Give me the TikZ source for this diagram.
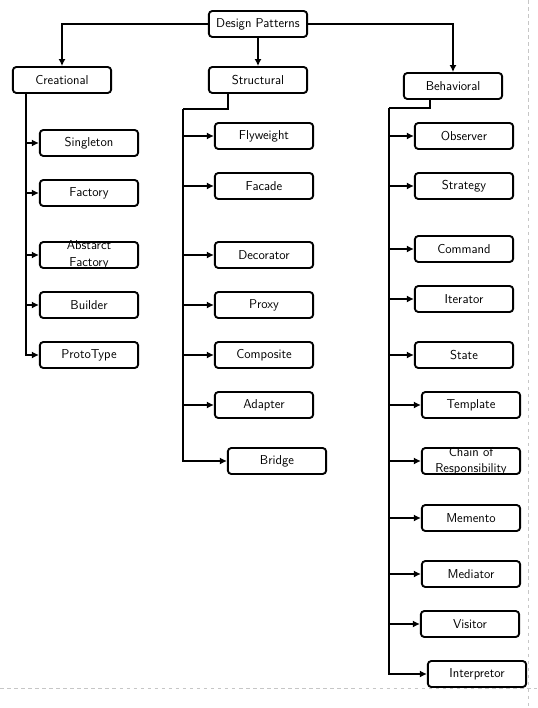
\documentclass[tikz,border=0pt]{standalone}
\usepackage{tikz}
\usetikzlibrary{arrows.meta,positioning,calc}

\tikzset{
    box/.style={draw, line width=1.6pt, rounded corners=3pt, minimum width=2.95cm, minimum height=0.78cm, font=\sffamily\fontsize{11}{14}\selectfont, inner sep=1pt},
    boxtext/.style={align=center, font=\sffamily\fontsize{11}{14}\selectfont},
    arr/.style={line width=1.6pt, -{Latex[length=6pt,width=6pt]}},
    trunk/.style={line width=1.6pt}
}

\begin{document}
\begin{tikzpicture}[x=0.03cm, y=-0.03cm]
    \useasboundingbox (0,0) rectangle (537,708);

    % Page edges
    \draw[dashed, gray!45, line width=0.6pt] (528,0) -- (528,708);
    \draw[dashed, gray!45, line width=0.6pt] (0,688) -- (537,688);

    % Root and groups
    \node[box] (dp) at (258,24) {Design Patterns};
    \node[box] (creational) at (62,80) {Creational};
    \node[box] (structural) at (258,80) {Structural};
    \node[box] (behavioral) at (453,86) {Behavioral};

    \draw[arr] (dp.west) -| (creational.north);
    \draw[arr] (dp.south) -- (structural.north);
    \draw[arr] (dp.east) -| (behavioral.north);

    % Creational
    \node[box] (singleton) at (89,143) {Singleton};
    \node[box] (factory) at (89,193) {Factory};
    \node[box, label={[boxtext]center:Abstarct\\Factory}] (abstractfactory) at (89,255) {};
    \node[box] (builder) at (89,305) {Builder};
    \node[box] (prototype) at (89,355) {ProtoType};

    \coordinate (ctop) at (26,93);
    \foreach \n in {singleton,factory,abstractfactory,builder,prototype}
        \draw[arr] (ctop) |- (\n.west);

    % Structural
    \node[box] (flyweight) at (264,136) {Flyweight};
    \node[box] (facade) at (264,186) {Facade};
    \node[box] (decorator) at (264,255) {Decorator};
    \node[box] (proxy) at (264,305) {Proxy};
    \node[box] (composite) at (264,355) {Composite};
    \node[box] (adapter) at (264,405) {Adapter};
    \node[box] (bridge) at (277,461) {Bridge};

    \coordinate (stop) at (228,93);
    \coordinate (sjoint) at (183,109);
    \draw[trunk] (stop) |- (sjoint);
    \foreach \n in {flyweight,facade,decorator,proxy,composite,adapter,bridge}
        \draw[arr] (sjoint) |- (\n.west);

    % Behavioral
    \node[box] (observer) at (464,136) {Observer};
    \node[box] (strategy) at (464,186) {Strategy};
    \node[box] (command) at (464,249) {Command};
    \node[box] (iterator) at (464,299) {Iterator};
    \node[box] (state) at (464,355) {State};
    \node[box] (template) at (471,405) {Template};
    \node[box, label={[boxtext]center:Chain of\\Responsibility}] (chain) at (471,461) {};
    \node[box] (memento) at (471,518) {Memento};
    \node[box] (mediator) at (471,574) {Mediator};
    \node[box] (visitor) at (470,624) {Visitor};
    \node[box] (interpretor) at (477,674) {Interpretor};

    \coordinate (btop) at (430,100);
    \coordinate (bjoint) at (389,108);
    \draw[trunk] (btop) |- (bjoint);
    \foreach \n in {observer,strategy,command,iterator,state,template,chain,memento,mediator,visitor,interpretor}
        \draw[arr] (bjoint) |- (\n.west);
\end{tikzpicture}
\end{document}
